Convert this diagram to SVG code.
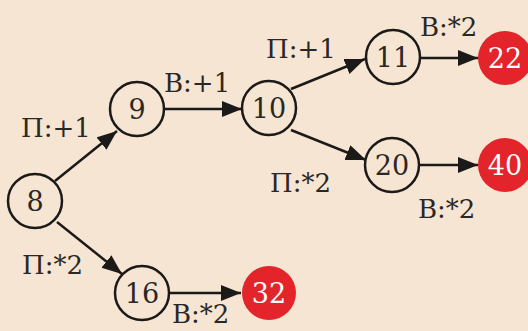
<svg xmlns="http://www.w3.org/2000/svg" width="528" height="331" viewBox="0 0 528 331">
<style>
.n circle{fill:none;stroke:#1c1a18;stroke-width:2.5}
.r circle{fill:#e3242b;stroke:none}
.n text,.r text{font-family:"DejaVu Serif","Liberation Serif",serif;font-size:27px;text-anchor:middle}
.n text{fill:#2a2724}
.r text{fill:#ffffff}
.e{stroke:#1c1a18;stroke-width:2.5;fill:none;marker-end:url(#ah)}
.l{font-family:"DejaVu Serif","Liberation Serif",serif;font-size:26px;fill:#2a2724}
</style>
<defs>
<marker id="ah" markerUnits="userSpaceOnUse" markerWidth="22" markerHeight="18" refX="20" refY="8" orient="auto">
<path d="M0,0 L20,8 L0,16 Z" fill="#1c1a18"/>
</marker>
</defs>
<rect width="528" height="331" fill="#f5e5d2"/>
<g id="connectors">
<line class="e" x1="55" y1="181" x2="117" y2="131"/>
<line class="e" x1="164" y1="109" x2="242" y2="109"/>
<line class="e" x1="291" y1="89" x2="365" y2="59"/>
<line class="e" x1="291" y1="130" x2="366" y2="160"/>
<line class="e" x1="421" y1="58" x2="478" y2="58"/>
<line class="e" x1="420" y1="165" x2="478" y2="165"/>
<line class="e" x1="57" y1="222" x2="122" y2="274"/>
<line class="e" x1="170" y1="293" x2="241" y2="293"/>
</g>
<g id="labels">
<text class="l" x="21" y="137">П:+1</text>
<text class="l" x="164" y="92">В:+1</text>
<text class="l" x="266" y="58">П:+1</text>
<text class="l" x="420" y="36">В:*2</text>
<text class="l" x="270" y="192">П:*2</text>
<text class="l" x="418" y="218">В:*2</text>
<text class="l" x="22" y="274">П:*2</text>
<text class="l" x="172" y="323">В:*2</text>
</g>
<g id="n8" class="n"><circle cx="35" cy="201" r="27"/><text x="35" y="211">8</text></g>
<g id="n9" class="n"><circle cx="137" cy="109" r="27"/><text x="137" y="119">9</text></g>
<g id="n10" class="n"><circle cx="269" cy="108" r="27"/><text x="269" y="118">10</text></g>
<g id="n11" class="n"><circle cx="393" cy="57" r="27"/><text x="393" y="67">11</text></g>
<g id="n20" class="n"><circle cx="392" cy="165" r="27"/><text x="392" y="175">20</text></g>
<g id="n16" class="n"><circle cx="142" cy="293" r="27"/><text x="142" y="303">16</text></g>
<g id="n22" class="r"><circle cx="505" cy="58" r="27"/><text x="505" y="68">22</text></g>
<g id="n40" class="r"><circle cx="505" cy="165" r="27"/><text x="505" y="175">40</text></g>
<g id="n32" class="r"><circle cx="269" cy="293" r="27"/><text x="269" y="303">32</text></g>
</svg>
